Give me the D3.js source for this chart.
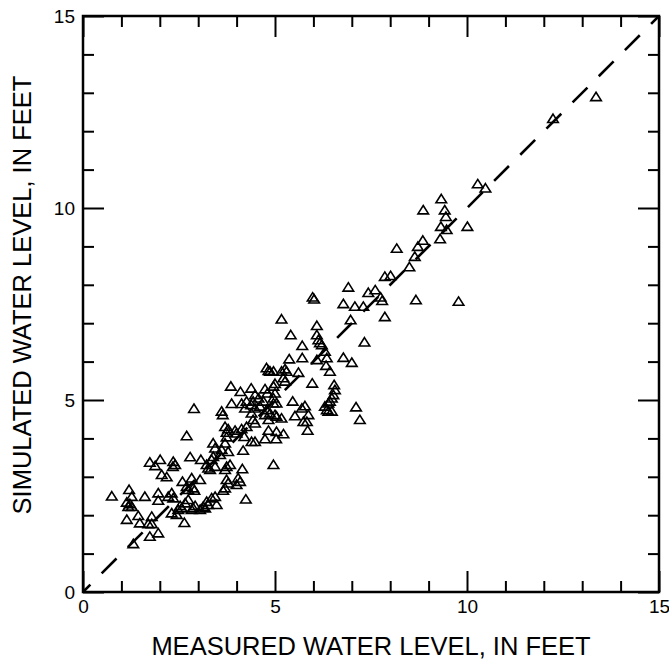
<!DOCTYPE html>
<html>
<head>
<meta charset="utf-8">
<script src="https://cdn.jsdelivr.net/npm/d3@7"></script>
<style>
  body { margin: 0; background: #fff; }
</style>
</head>
<body>
<div id="chart"></div>
<script>
// measured vs simulated water level (feet)
const measured = [
  2.89, 3.87, 3.61, 3.64, 4.13, 4.22, 4.26, 4.39, 4.43, 4.38,
  2.70, 3.70, 3.78, 3.74, 3.96, 4.00, 4.13, 4.20, 4.26, 4.39,
  3.39, 3.44, 3.70, 3.74, 3.61, 3.78, 3.57, 4.17, 2.79, 3.07,
  3.35, 3.39, 3.44, 3.26, 3.22, 3.31, 3.70, 3.74, 3.83, 4.15,
  1.74, 2.01, 1.88, 2.35, 2.34, 2.40, 2.05, 2.18, 2.59, 2.83,
  3.05, 2.70, 2.74, 2.87, 2.90, 3.74, 3.78, 3.70, 3.65, 4.04,
  4.09, 4.00, 1.96, 1.96, 2.22, 2.31, 2.35, 1.61, 2.74, 2.66,
  2.53, 2.57, 2.92, 2.87, 2.83, 3.05, 3.22, 3.35, 3.44, 3.48,
  3.26, 3.13, 3.18, 4.24, 2.31, 2.44, 2.48, 1.79, 0.75, 1.20,
  1.27, 1.14, 1.18, 1.27, 1.22, 1.14, 1.44, 1.48, 1.70, 1.79,
  2.64, 1.96, 1.74, 1.31, 3.85, 4.10, 4.38, 6.91, 7.43, 5.98,
  6.02, 6.78, 7.08, 7.30, 5.17, 6.97, 6.09, 5.41, 6.09, 6.13,
  6.17, 6.22, 7.33, 5.71, 6.30, 6.35, 5.37, 5.71, 6.09, 6.78,
  7.00, 6.33, 6.43, 4.78, 4.83, 4.87, 4.96, 5.17, 5.26, 5.30,
  5.61, 5.22, 5.26, 5.00, 4.96, 4.74, 4.48, 4.57, 5.00, 4.96,
  5.97, 6.54, 6.56, 6.52, 6.48, 4.80, 5.46, 5.70, 5.78, 5.87,
  5.74, 5.83, 5.85, 6.30, 6.39, 6.43, 6.39, 6.35, 6.48, 7.11,
  7.21, 5.52, 4.43, 4.48, 4.48, 4.61, 4.70, 4.78, 4.74, 4.83,
  4.87, 4.96, 5.04, 5.00, 5.04, 5.17, 4.83, 5.04, 5.22, 4.74,
  5.03, 4.48, 4.96, 7.61, 7.75, 7.79, 10.28, 10.48, 9.33, 8.86,
  9.42, 9.45, 9.32, 9.47, 10.01, 8.85, 8.72, 9.30, 8.17, 8.64,
  8.50, 7.86, 8.01, 8.67, 9.78, 7.86, 12.24, 13.36
];
const simulated = [
  4.77, 4.90, 4.70, 4.61, 4.90, 4.78, 4.96, 4.65, 4.48, 4.87,
  4.06, 4.30, 4.24, 4.15, 4.20, 4.13, 4.24, 4.04, 4.30, 3.91,
  3.87, 3.74, 3.87, 4.03, 3.70, 3.65, 3.57, 3.68, 3.51, 3.44,
  3.44, 3.52, 3.26, 3.22, 3.31, 3.18, 3.18, 3.26, 3.31, 3.20,
  3.37, 3.44, 3.28, 3.39, 3.26, 3.31, 3.05, 2.99, 2.87, 2.96,
  2.92, 2.74, 2.66, 2.70, 2.64, 2.92, 2.83, 2.70, 2.64, 2.96,
  2.87, 2.79, 2.57, 2.38, 2.48, 2.57, 2.44, 2.48, 2.40, 2.31,
  2.24, 2.18, 2.24, 2.18, 2.14, 2.14, 2.35, 2.44, 2.48, 2.27,
  2.27, 2.22, 2.18, 2.41, 2.05, 2.01, 2.14, 1.96, 2.49, 2.66,
  2.48, 2.33, 2.22, 2.22, 2.29, 1.88, 1.98, 1.79, 1.77, 1.77,
  1.80, 1.53, 1.44, 1.25, 5.35, 5.21, 5.30, 7.93, 7.79, 7.67,
  7.62, 7.50, 7.43, 7.43, 7.10, 7.08, 6.93, 6.69, 6.69, 6.56,
  6.48, 6.43, 6.50, 6.41, 6.26, 6.09, 6.06, 6.09, 6.04, 6.10,
  5.97, 5.89, 5.74, 5.83, 5.76, 5.74, 5.74, 5.74, 5.80, 5.74,
  5.71, 5.57, 5.48, 5.42, 5.35, 5.28, 5.13, 5.04, 5.17, 5.04,
  5.43, 5.39, 5.26, 5.13, 5.04, 5.17, 4.96, 4.78, 4.84, 4.61,
  4.43, 4.43, 4.20, 4.83, 4.91, 4.96, 4.70, 4.74, 4.70, 4.81,
  4.48, 4.58, 4.96, 4.78, 4.39, 4.83, 4.96, 4.74, 4.61, 4.48,
  4.65, 4.91, 4.91, 4.61, 4.57, 4.52, 4.20, 4.17, 4.11, 3.98,
  3.98, 3.91, 3.31, 7.86, 7.67, 7.58, 10.62, 10.51, 10.23, 9.94,
  9.94, 9.77, 9.51, 9.43, 9.51, 9.15, 8.99, 9.19, 8.94, 8.73,
  8.46, 8.21, 8.23, 7.60, 7.56, 7.16, 12.32, 12.89
];
const majorTicks = [0, 5, 10, 15];
const minorTicks = [1, 2, 3, 4, 6, 7, 8, 9, 11, 12, 13, 14];
const xTitle = "MEASURED WATER LEVEL, IN FEET";
const yTitle = "SIMULATED WATER LEVEL, IN FEET";

const W = 669, H = 662;
const margin = { top: 16, left: 83 };
const size = 576;
const font = "'Liberation Sans', Arial, sans-serif";

const data = measured.map((m, i) => ({ m, s: simulated[i] }));

const x = d3.scaleLinear().domain([0, 15]).range([0, size]);
const y = d3.scaleLinear().domain([0, 15]).range([size, 0]);

const svg = d3.select("#chart").append("svg")
  .attr("width", W)
  .attr("height", H)
  .style("font-family", font);

const g = svg.append("g")
  .attr("transform", `translate(${margin.left},${margin.top})`);

function styleAxis(sel) {
  sel.select(".domain").remove();
  sel.selectAll(".tick line").attr("stroke", "#000").attr("stroke-width", 2);
  sel.selectAll(".tick text").attr("fill", "#000").style("font-size", "19px").style("font-family", font);
}

// major ticks, inward
g.append("g").attr("transform", `translate(0,${size})`)
  .call(d3.axisBottom(x).tickValues(majorTicks).tickSize(-21).tickPadding(8).tickFormat(d3.format("d")))
  .call(styleAxis);
g.append("g")
  .call(d3.axisLeft(y).tickValues(majorTicks).tickSize(-21).tickPadding(8).tickFormat(d3.format("d")))
  .call(styleAxis);
g.append("g")
  .call(d3.axisTop(x).tickValues(majorTicks).tickSize(-21).tickFormat(""))
  .call(styleAxis);
g.append("g").attr("transform", `translate(${size},0)`)
  .call(d3.axisRight(y).tickValues(majorTicks).tickSize(-21).tickFormat(""))
  .call(styleAxis);

// minor ticks
g.append("g").attr("transform", `translate(0,${size})`)
  .call(d3.axisBottom(x).tickValues(minorTicks).tickSize(-11).tickFormat(""))
  .call(styleAxis);
g.append("g")
  .call(d3.axisLeft(y).tickValues(minorTicks).tickSize(-11).tickFormat(""))
  .call(styleAxis);
g.append("g")
  .call(d3.axisTop(x).tickValues(minorTicks).tickSize(-11).tickFormat(""))
  .call(styleAxis);
g.append("g").attr("transform", `translate(${size},0)`)
  .call(d3.axisRight(y).tickValues(minorTicks).tickSize(-11).tickFormat(""))
  .call(styleAxis);

// frame
g.append("rect")
  .attr("width", size)
  .attr("height", size)
  .attr("fill", "none")
  .attr("stroke", "#000")
  .attr("stroke-width", 2.5);

// 1:1 line
g.append("line")
  .attr("x1", x(0)).attr("y1", y(0))
  .attr("x2", x(15)).attr("y2", y(15))
  .attr("stroke", "#000")
  .attr("stroke-width", 2.6)
  .attr("stroke-dasharray", "21,16")
  .attr("stroke-dashoffset", 10.6);

// triangles
g.append("g").selectAll("path")
  .data(data)
  .join("path")
  .attr("transform", d => `translate(${x(d.m)},${y(d.s)})`)
  .attr("d", "M0,-4.8L5.3,3.6L-5.3,3.6Z")
  .attr("fill", "none")
  .attr("stroke", "#000")
  .attr("stroke-width", 1.6);

// titles
svg.append("text")
  .attr("x", margin.left + size / 2)
  .attr("y", 655)
  .attr("text-anchor", "middle")
  .style("font-size", "25.5px")
  .text(xTitle);

svg.append("text")
  .attr("transform", `translate(31,${margin.top + size / 2 - 9}) rotate(-90)`)
  .attr("text-anchor", "middle")
  .style("font-size", "25.5px")
  .text(yTitle);
</script>
</body>
</html>
